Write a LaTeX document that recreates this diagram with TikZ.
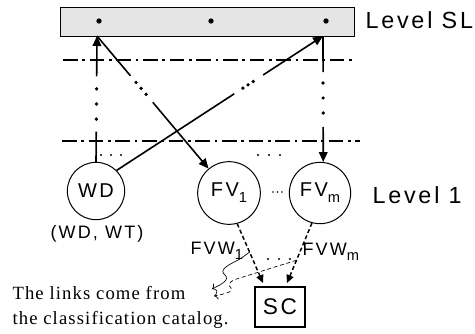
\documentclass[tikz,border=0pt]{standalone}
\usepackage{fontspec}
\usetikzlibrary{arrows.meta,calc}
\newfontfamily\labelfont[LetterSpace=12]{Liberation Sans}
\newfontfamily\notefont[LetterSpace=6]{Liberation Serif}
\newcommand{\lowsub}[1]{\raisebox{-0.55ex}{\fontsize{11}{11}\selectfont #1}}

\tikzset{every picture/.style={line width=0.75pt}}
\tikzset{
  vertnode/.style={circle,draw,inner sep=0pt,font=\labelfont\fontsize{15}{17}\selectfont},
  leveltxt/.style={font=\labelfont\fontsize{17.5}{20}\selectfont,inner sep=0pt},
  labeltxt/.style={font=\labelfont\fontsize{13.5}{16}\selectfont,inner sep=0pt},
  notetxt/.style={font=\notefont\fontsize{14}{16}\selectfont,inner sep=0pt,anchor=base west},
  levelsep/.style={line width=1pt,dash pattern=on 11pt off 3.5pt on 2pt off 3.5pt},
  pathlink/.style={line width=1.2pt},
  headtip/.style={-{Triangle[length=7.5pt,width=6.5pt]}},
  dashlink/.style={line width=1.1pt,dash pattern=on 3pt off 2pt,-{Triangle[length=6pt,width=5.5pt]}},
  notelink/.style={line width=0.5pt,-{To[length=3pt]}},
}

\begin{document}
\begin{tikzpicture}[x=0.75pt,y=0.75pt,yscale=-1]
\useasboundingbox (0,0) rectangle (475,333);

% Level SL bar
\node (sl) [draw,fill=black!10,minimum width=220.5pt,minimum height=21.75pt,inner sep=0pt] at (207,21.5) {};
\coordinate (d1) at (99,21);
\coordinate (d2) at (211,21);
\coordinate (d3) at (326,21);
\foreach \d in {d1,d2,d3} \fill (\d) circle [radius=2pt];
\coordinate (s1) at (97,36);
\coordinate (s3) at (323,36);

% separators
\draw[levelsep] (63,60) -- (355,60);
\draw[levelsep] (62,141) -- (360,141);

% Level 1 vertices
\node (wd) [vertnode,minimum size=43pt] at (96,191) {WD};
\node (fv1) [vertnode,minimum size=47pt] at (229,193) {FV\lowsub{1}};
\node (fvm) [vertnode,minimum size=46pt] at (320,193) {FV\lowsub{m}};

% WD up to SL
\draw[pathlink] (wd.north) -- ($(wd.north)!0.24!(s1)$);
\foreach \t in {0.34,0.46,0.58} \fill ($(wd.north)!\t!(s1)$) circle [radius=1.4pt];
\draw[pathlink,headtip] ($(wd.north)!0.68!(s1)$) -- (s1);

% SL down to FV1
\draw[pathlink] (s1) -- ($(s1)!0.3!(fv1.130)$);
\foreach \t in {0.35,0.395,0.44} \fill ($(s1)!\t!(fv1.130)$) circle [radius=1.4pt];
\draw[pathlink,headtip] ($(s1)!0.5!(fv1.130)$) -- (fv1.130);

% WD up to SL (crossing)
\draw[pathlink] (wd.45) -- ($(wd.45)!0.57!(s3)$);
\foreach \t in {0.612,0.637,0.662} \fill ($(wd.45)!\t!(s3)$) circle [radius=1.4pt];
\draw[pathlink,headtip] ($(wd.45)!0.71!(s3)$) -- (s3);

% SL down to FVm
\draw[pathlink] (s3) -- ($(s3)!0.286!(fvm.84)$);
\foreach \t in {0.373,0.492,0.611} \fill ($(s3)!\t!(fvm.84)$) circle [radius=1.4pt];
\draw[pathlink,headtip] ($(s3)!0.722!(fvm.84)$) -- (fvm.84);

% ellipses
\foreach \x in {101,111,121} \fill (\x,155) circle [radius=0.9pt];
\foreach \x in {258,269,280} \fill (\x,155) circle [radius=0.9pt];
\foreach \x in {268,279,290} \fill (\x,259) circle [radius=0.9pt];
\foreach \x in {273,277.5,282} \fill (\x,192) circle [radius=0.7pt];

% Text Node
\node (wdt) [labeltxt] at (97,234) {(WD, WT)};
\node (lsl) [leveltxt,anchor=base west] at (365,28) {Level SL};
\node (l1) [leveltxt,anchor=base west] at (372,203) {Level 1};
\node (w1) [labeltxt,anchor=base west] at (190,254) {FVW\lowsub{1}};
\node (wm) [labeltxt,anchor=base west] at (302,255) {FVW\lowsub{m}};

% SC
\node (sc) [draw,line width=1pt,minimum width=37.5pt,minimum height=30pt,font=\labelfont\fontsize{17}{19}\selectfont] at (280,307) {SC};
\coordinate (sc1) at (263,283);
\coordinate (sc2) at (287,283);
\draw[dashlink] (fv1.-75) -- (sc1);
\draw[dashlink] (fvm.-105) -- (sc2);

% links to the note
\draw[notelink] ($(fv1.-75)!0.48!(sc1)$) -- (240,259) .. controls (226,266) and (219,270) .. (225,275) .. controls (230,280) and (222,284) .. (212,289);
\draw[notelink,densely dashed] ($(fvm.-105)!0.62!(sc2)$) -- (243,277) .. controls (232,280) and (226,283) .. (231,288) .. controls (234,292) and (224,294) .. (214,296);

\node (n1) [notetxt] at (12,299) {The links come from};
\node (n2) [notetxt] at (12,324) {the classification catalog.};

\end{tikzpicture}
\end{document}
